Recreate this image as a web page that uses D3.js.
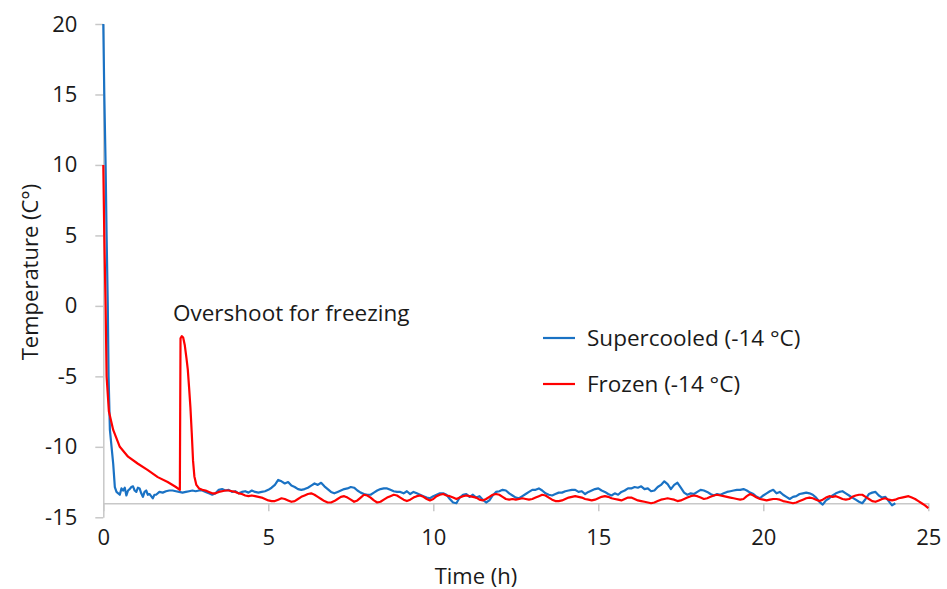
<!DOCTYPE html>
<html lang="en">
<head>
<meta charset="utf-8">
<title>Supercooled vs frozen temperature</title>
<style>
  body { margin: 0; background: #fff; }
  svg text { font-family: "Open Sans", sans-serif; fill: #1a1a1a; }
  .axis path, .axis line { stroke: #c8c8c8; stroke-width: 1.5; }
  .axis text { font-size: 22px; }
</style>
</head>
<body>
<svg width="947" height="589"></svg>
<script src="https://d3js.org/d3.v7.min.js"></script>
<script>
// [time (h), temperature (°C)]
var supercooled = [
  [0,20],[0.03,15],[0.07,10],[0.1,5],[0.136,0],[0.16,-5],[0.2,-8.8],[0.3,-11.2],[0.35,-12.86],
  [0.4,-13.2],[0.5,-13.4],[0.55,-12.95],[0.6,-13.1],[0.65,-12.9],[0.7,-13.45],[0.75,-13.1],[0.8,-13.0],[0.85,-12.85],[0.9,-12.8],[0.95,-13.1],
  [1.0,-13.2],[1.05,-12.9],[1.1,-12.95],[1.15,-13.3],[1.2,-13.55],[1.25,-13.2],[1.3,-13.1],[1.35,-13.4],[1.4,-13.35],[1.45,-13.5],[1.5,-13.65],[1.55,-13.4],[1.6,-13.4],[1.7,-13.2],[1.8,-13.25],[1.9,-13.15],
  [2.0,-13.1],[2.1,-13.1],[2.2,-13.15],[2.3,-13.2],[2.4,-13.25],[2.5,-13.2],[2.6,-13.15],[2.7,-13.1],[2.8,-13.15],[2.9,-13.1],
  [3.0,-13.1],[3.1,-13.2],[3.2,-13.3],[3.3,-13.4],[3.4,-13.3],[3.5,-13.05],[3.6,-13.0],[3.7,-13.1],[3.8,-13.05],[3.9,-13.2],
  [4.0,-13.15],[4.1,-13.3],[4.2,-13.2],[4.3,-13.15],[4.4,-13.25],[4.5,-13.1],[4.6,-13.2],[4.7,-13.25],[4.8,-13.2],[4.9,-13.15],
  [5.0,-13.05],[5.1,-12.9],[5.2,-12.7],[5.3,-12.35],[5.4,-12.45],[5.5,-12.6],[5.6,-12.5],[5.7,-12.75],[5.8,-12.85],[5.9,-13.0],
  [6.0,-13.05],[6.1,-13.0],[6.2,-12.9],[6.3,-12.75],[6.4,-12.6],[6.5,-12.7],[6.6,-12.55],[6.7,-12.8],[6.8,-13.0],[6.9,-13.2],
  [7.0,-13.3],[7.1,-13.2],[7.2,-13.1],[7.3,-13.0],[7.4,-12.95],[7.5,-12.85],[7.6,-12.9],[7.7,-13.1],[7.8,-13.25],[7.9,-13.35],
  [8.0,-13.4],[8.1,-13.4],[8.2,-13.25],[8.3,-13.1],[8.4,-13.0],[8.5,-12.95],[8.6,-12.95],[8.7,-13.05],[8.8,-13.15],[8.9,-13.2],
  [9.0,-13.2],[9.1,-13.3],[9.2,-13.15],[9.3,-13.35],[9.4,-13.2],[9.5,-13.3],[9.6,-13.4],[9.7,-13.5],[9.8,-13.6],[9.9,-13.65],
  [10.0,-13.5],[10.1,-13.4],[10.2,-13.3],[10.3,-13.3],[10.4,-13.4],[10.5,-13.7],[10.6,-13.95],[10.7,-14.0],[10.8,-13.6],[10.9,-13.4],
  [11.0,-13.35],[11.1,-13.55],[11.2,-13.4],[11.3,-13.6],[11.4,-13.5],[11.5,-13.75],[11.6,-13.95],[11.7,-13.8],[11.8,-13.45],[11.9,-13.2],
  [12.0,-13.15],[12.1,-13.05],[12.2,-13.1],[12.3,-13.3],[12.4,-13.45],[12.5,-13.6],[12.6,-13.65],[12.7,-13.5],[12.8,-13.35],[12.9,-13.2],
  [13.0,-13.05],[13.1,-13.05],[13.2,-12.95],[13.3,-13.1],[13.4,-13.3],[13.5,-13.4],[13.6,-13.45],[13.7,-13.35],[13.8,-13.25],[13.9,-13.25],
  [14.0,-13.15],[14.1,-13.1],[14.2,-13.05],[14.3,-13.05],[14.4,-13.2],[14.5,-13.15],[14.6,-13.35],[14.7,-13.2],[14.8,-13.1],[14.9,-13.0],
  [15.0,-12.95],[15.1,-13.1],[15.2,-13.2],[15.3,-13.35],[15.4,-13.45],[15.5,-13.3],[15.6,-13.4],[15.7,-13.2],[15.8,-13.1],[15.9,-12.95],
  [16.0,-12.95],[16.1,-12.85],[16.2,-12.9],[16.3,-12.8],[16.4,-13.0],[16.5,-12.95],[16.6,-13.15],[16.7,-13.1],[16.8,-12.85],[16.9,-12.7],
  [17.0,-12.45],[17.1,-12.65],[17.2,-13.0],[17.3,-12.7],[17.4,-12.55],[17.5,-12.9],[17.6,-13.25],[17.7,-13.4],[17.8,-13.3],[17.9,-13.35],
  [18.0,-13.2],[18.1,-13.05],[18.2,-13.1],[18.3,-13.2],[18.4,-13.35],[18.5,-13.45],[18.6,-13.35],[18.7,-13.4],[18.8,-13.3],[18.9,-13.2],
  [19.0,-13.15],[19.1,-13.1],[19.2,-13.05],[19.3,-13.05],[19.4,-13.0],[19.5,-13.1],[19.6,-13.25],[19.7,-13.35],[19.8,-13.55],[19.9,-13.65],
  [20.0,-13.45],[20.1,-13.3],[20.2,-13.15],[20.3,-13.05],[20.4,-13.3],[20.5,-13.2],[20.6,-13.4],[20.7,-13.55],[20.8,-13.7],[20.9,-13.55],
  [21.0,-13.5],[21.1,-13.35],[21.2,-13.3],[21.3,-13.25],[21.4,-13.3],[21.5,-13.4],[21.6,-13.6],[21.7,-13.9],[21.8,-14.1],[21.9,-13.8],
  [22.0,-13.65],[22.1,-13.45],[22.2,-13.3],[22.3,-13.2],[22.4,-13.15],[22.5,-13.3],[22.6,-13.45],[22.7,-13.6],[22.8,-13.75],[22.9,-13.9],
  [23.0,-14.0],[23.1,-13.7],[23.2,-13.35],[23.3,-13.25],[23.4,-13.2],[23.5,-13.45],[23.6,-13.6],[23.7,-13.55],[23.8,-13.85],[23.9,-14.15],
  [24.0,-14.0]
];

var frozen = [
  [0,10],[0.03,5],[0.07,0],[0.1,-5],[0.17,-7.5],[0.3,-8.8],[0.5,-10.0],[0.75,-10.7],[1.05,-11.2],[1.35,-11.65],
  [1.65,-12.15],[1.95,-12.5],[2.2,-12.85],[2.32,-13.05],[2.34,-2.3],[2.38,-2.15],[2.42,-2.25],[2.47,-2.8],[2.52,-3.7],
  [2.56,-4.5],[2.6,-5.8],[2.64,-7.2],[2.68,-9.0],[2.72,-11.0],[2.76,-12.1],[2.82,-12.7],[2.9,-12.95],
  [3.0,-13.05],[3.1,-13.1],[3.2,-13.2],[3.3,-13.3],[3.4,-13.3],[3.5,-13.2],[3.6,-13.15],[3.7,-13.1],[3.8,-13.1],[3.9,-13.15],
  [4.0,-13.2],[4.1,-13.3],[4.2,-13.35],[4.3,-13.45],[4.4,-13.5],[4.5,-13.45],[4.6,-13.5],[4.7,-13.55],[4.8,-13.6],[4.9,-13.7],
  [5.0,-13.8],[5.1,-13.85],[5.2,-13.85],[5.3,-13.75],[5.4,-13.65],[5.5,-13.7],[5.6,-13.8],[5.7,-13.9],[5.8,-13.85],[5.9,-13.7],
  [6.0,-13.55],[6.1,-13.45],[6.2,-13.35],[6.3,-13.3],[6.4,-13.4],[6.5,-13.55],[6.6,-13.7],[6.7,-13.85],[6.8,-13.95],[6.9,-13.95],
  [7.0,-13.85],[7.1,-13.7],[7.2,-13.55],[7.3,-13.5],[7.4,-13.6],[7.5,-13.75],[7.6,-13.9],[7.7,-13.8],[7.8,-13.6],[7.9,-13.4],
  [8.0,-13.45],[8.1,-13.6],[8.2,-13.8],[8.3,-13.95],[8.4,-13.9],[8.5,-13.75],[8.6,-13.6],[8.7,-13.5],[8.8,-13.4],[8.9,-13.45],
  [9.0,-13.6],[9.1,-13.75],[9.2,-13.85],[9.3,-13.75],[9.4,-13.6],[9.5,-13.5],[9.6,-13.45],[9.7,-13.55],[9.8,-13.7],[9.9,-13.8],
  [10.0,-13.7],[10.1,-13.5],[10.2,-13.4],[10.3,-13.35],[10.4,-13.45],[10.5,-13.5],[10.6,-13.6],[10.7,-13.7],[10.8,-13.6],[10.9,-13.5],
  [11.0,-13.45],[11.1,-13.5],[11.2,-13.55],[11.3,-13.6],[11.4,-13.75],[11.5,-13.8],[11.6,-13.7],[11.7,-13.55],[11.8,-13.4],[11.9,-13.35],
  [12.0,-13.4],[12.1,-13.55],[12.2,-13.7],[12.3,-13.75],[12.4,-13.7],[12.5,-13.75],[12.6,-13.7],[12.7,-13.65],[12.8,-13.7],[12.9,-13.75],
  [13.0,-13.7],[13.1,-13.6],[13.2,-13.5],[13.3,-13.4],[13.4,-13.45],[13.5,-13.6],[13.6,-13.75],[13.7,-13.85],[13.8,-13.85],[13.9,-13.8],
  [14.0,-13.7],[14.1,-13.6],[14.2,-13.55],[14.3,-13.5],[14.4,-13.55],[14.5,-13.6],[14.6,-13.7],[14.7,-13.75],[14.8,-13.8],[14.9,-13.75],
  [15.0,-13.65],[15.1,-13.55],[15.2,-13.5],[15.3,-13.55],[15.4,-13.65],[15.5,-13.7],[15.6,-13.75],[15.7,-13.8],[15.8,-13.7],[15.9,-13.6],
  [16.0,-13.6],[16.1,-13.7],[16.2,-13.8],[16.3,-13.85],[16.4,-13.9],[16.5,-13.95],[16.6,-14.0],[16.7,-13.95],[16.8,-13.85],[16.9,-13.75],
  [17.0,-13.7],[17.1,-13.65],[17.2,-13.7],[17.3,-13.75],[17.4,-13.85],[17.5,-13.8],[17.6,-13.7],[17.7,-13.6],[17.8,-13.5],[17.9,-13.45],
  [18.0,-13.5],[18.1,-13.6],[18.2,-13.7],[18.3,-13.65],[18.4,-13.55],[18.5,-13.45],[18.6,-13.4],[18.7,-13.45],[18.8,-13.5],[18.9,-13.55],
  [19.0,-13.6],[19.1,-13.65],[19.2,-13.7],[19.3,-13.75],[19.4,-13.7],[19.5,-13.5],[19.6,-13.35],[19.7,-13.45],[19.8,-13.6],[19.9,-13.7],
  [20.0,-13.75],[20.1,-13.8],[20.2,-13.75],[20.3,-13.7],[20.4,-13.7],[20.5,-13.75],[20.6,-13.85],[20.7,-13.9],[20.8,-13.95],[20.9,-14.0],
  [21.0,-13.95],[21.1,-13.85],[21.2,-13.75],[21.3,-13.65],[21.4,-13.6],[21.5,-13.65],[21.6,-13.75],[21.7,-13.85],[21.8,-13.75],[21.9,-13.6],
  [22.0,-13.5],[22.1,-13.55],[22.2,-13.5],[22.3,-13.6],[22.4,-13.7],[22.5,-13.75],[22.6,-13.7],[22.7,-13.55],[22.8,-13.45],[22.9,-13.4],
  [23.0,-13.4],[23.1,-13.55],[23.2,-13.7],[23.3,-13.85],[23.4,-13.9],[23.5,-13.8],[23.6,-13.7],[23.7,-13.65],[23.8,-13.75],[23.9,-13.8],
  [24.0,-13.75],[24.1,-13.65],[24.2,-13.6],[24.3,-13.55],[24.4,-13.5],[24.5,-13.6],[24.6,-13.7],[24.7,-13.85],[24.8,-14.0],[24.9,-14.15],
  [25.0,-14.35]
];

var xTicks = [0, 5, 10, 15, 20, 25];
var yTicks = [-15, -10, -5, 0, 5, 10, 15, 20];
var seriesNames = ["Supercooled (-14 °C)", "Frozen (-14 °C)"];
var seriesColors = ["#1a72c4", "#ff0000"];

var svg = d3.select("svg");

var x = d3.scaleLinear().domain([0, 25]).range([103.3, 928.3]);
var y = d3.scaleLinear().domain([-15, 20]).range([517.3, 24]);

// plain hyphen for negatives, like the original
var fmt = function(d) { return String(d); };

// y axis runs the full range, x axis crosses at -14
svg.append("g")
    .attr("class", "axis")
    .attr("transform", "translate(" + x(0) + ",0)")
    .call(d3.axisLeft(y).tickValues(yTicks).tickFormat(fmt).tickSize(8).tickPadding(18).tickSizeOuter(0));

svg.append("g")
    .attr("class", "axis")
    .attr("transform", "translate(0," + y(-14) + ")")
    .call(d3.axisBottom(x).tickValues(xTicks).tickFormat(fmt).tickSize(8).tickPadding(18).tickSizeOuter(0));

svg.selectAll(".axis .domain").attr("stroke", "#c8c8c8");
svg.selectAll(".axis text").attr("fill", "#1a1a1a");

var line = d3.line()
    .x(function(d) { return x(d[0]); })
    .y(function(d) { return y(d[1]); });

[supercooled, frozen].forEach(function(data, i) {
  svg.append("path")
      .datum(data)
      .attr("fill", "none")
      .attr("stroke", seriesColors[i])
      .attr("stroke-width", 2.2)
      .attr("stroke-linejoin", "round")
      .attr("d", line);
});

// axis titles
svg.append("text")
    .attr("x", 476)
    .attr("y", 584)
    .attr("text-anchor", "middle")
    .style("font-size", "22px")
    .text("Time (h)");

svg.append("text")
    .attr("transform", "translate(38,272) rotate(-90)")
    .attr("text-anchor", "middle")
    .style("font-size", "22px")
    .text("Temperature (C°)");

// annotation
svg.append("text")
    .attr("x", 173)
    .attr("y", 321)
    .style("font-size", "22.5px")
    .text("Overshoot for freezing");

// legend
var legend = svg.append("g").attr("transform", "translate(543,338)");
seriesNames.forEach(function(name, i) {
  var g = legend.append("g").attr("transform", "translate(0," + (i * 46) + ")");
  g.append("line")
      .attr("x1", 0).attr("x2", 32)
      .attr("stroke", seriesColors[i])
      .attr("stroke-width", 2.2);
  g.append("text")
      .attr("x", 44)
      .attr("dy", "0.35em")
      .style("font-size", "22.5px")
      .text(name);
});
</script>
</body>
</html>
